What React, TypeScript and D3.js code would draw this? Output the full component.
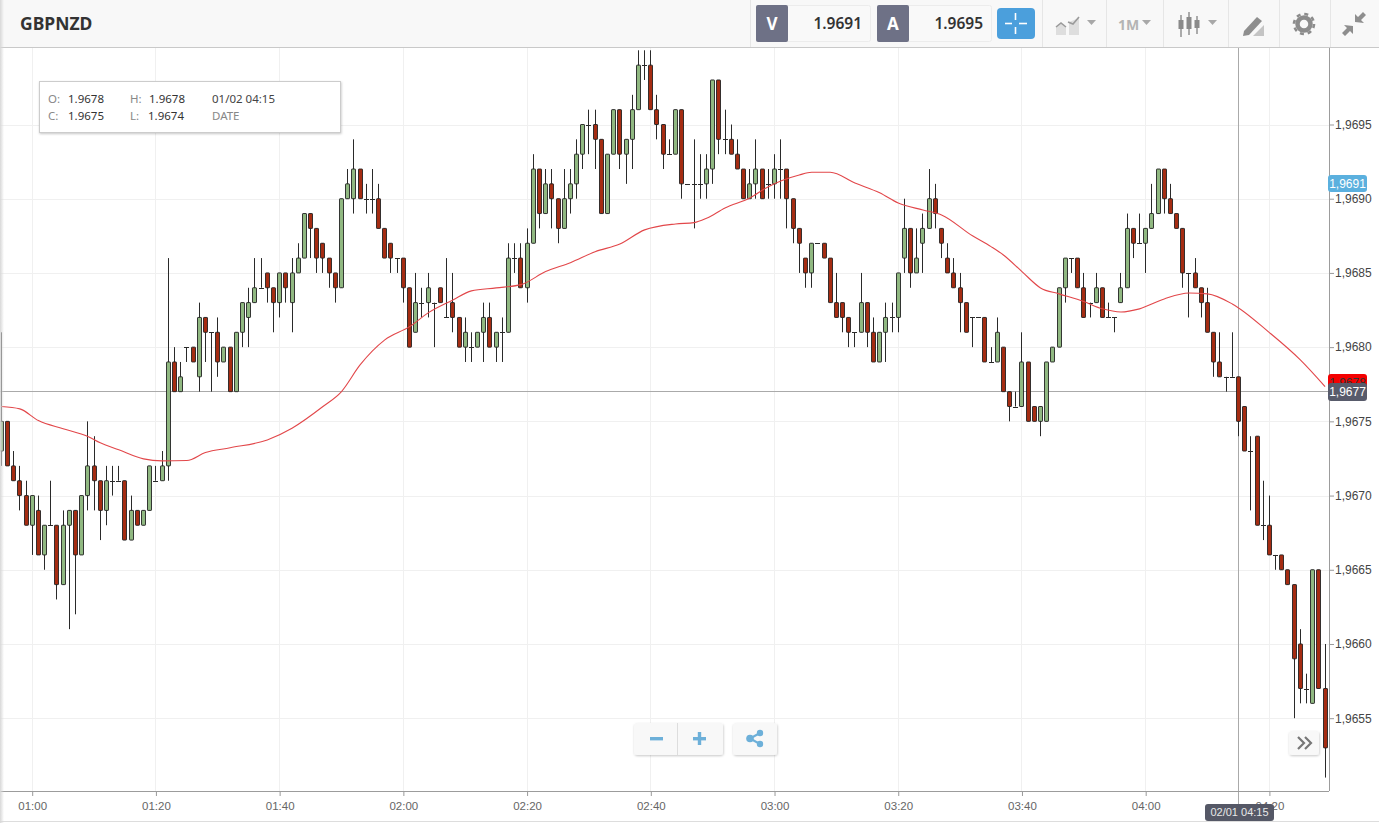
import React, { useEffect, useRef } from 'react';
import * as d3 from 'd3';

// prices are stored as pips above 1.9600
const BASE = 1.96;
const PIP = 0.0001;

const opens = [
  73,75,72,71,70,68,69,66,68,68, 64,68,69,66,70,72,71,69,71,71,
  71,67,69,68,69,71,71,72,79,77, 80,80,78,82,81,81,79,80,77,81,
  82,83,84,85,84,83,85,83,85,86, 89,88,87,86,85,84,90,90,92,90,
  90,90,88,87,86,86,84,81,83,83, 83,84,82,83,82,80,80,80,81,82,
  80,81,81,86,86,84,87,92,89,91, 90,88,90,91,93,95,95,94,89,93,
  96,93,94,96,99,99,96,95,93,93, 96,91,91,91,91,92,98,94,94,93,
  92,90,91,92,91,91,92,92,90,88, 86,85,87,87,86,83,83,82,81,81,
  83,81,79,81,82,82,86,88,85,87, 88,90,88,86,85,84,83,82,82,82,
  79,79,80,77,76,76,79,76,75,75, 79,80,84,86,86,84,83,83,84,82,
  82,83,84,88,87,87,88,89,92,90, 89,88,85,85,84,83,81,79,78,78,
  78,76,73,74,68,68,66,66,65,64, 60,57,56,65,57,
];
const highs = [
  81,75,73,72,71,70,70,68,71,68, 69,69,69,70,75,74,71,72,72,72,
  71,70,69,69,72,72,73,86,80,79, 80,80,83,82,81,82,80,80,81,83,
  84,86,86,85,84,85,85,86,87,89, 89,88,87,86,85,90,92,94,92,91,
  92,91,88,87,86,86,84,85,84,85, 83,84,86,85,82,82,81,81,83,83,
  81,82,87,87,87,88,93,92,92,92, 90,92,92,94,95,96,96,94,93,96,
  96,94,97,100,100,100,97,95,94,96, 96,91,94,93,93,98,98,96,95,94,
  92,92,94,92,92,93,94,92,90,88, 86,87,87,87,86,85,83,82,81,85,
  83,82,81,83,83,85,90,88,88,89, 92,91,88,87,86,85,83,82,82,82,
  80,82,80,77,77,81,79,76,76,79, 80,84,86,86,86,85,83,85,84,83,
  82,85,89,88,89,88,91,92,92,91, 89,88,85,86,84,84,81,81,78,81,
  78,76,74,74,71,70,66,66,65,64, 61,58,65,65,60,
];
const lows = [
  72,72,71,69,68,66,66,65,68,63, 64,61,62,66,69,69,67,68,70,71,
  67,67,68,68,69,71,71,71,77,77, 79,79,77,79,77,78,79,77,77,80,
  80,83,84,83,81,82,83,81,85,86, 86,85,85,84,83,84,90,89,90,89,
  89,88,86,85,85,83,80,81,82,82, 80,83,82,81,80,79,79,80,79,80,
  79,79,81,85,84,83,87,88,89,88, 87,88,89,90,92,93,92,89,89,93,
  92,91,92,96,98,96,94,92,93,93, 90,91,88,90,90,91,93,93,93,92,
  90,90,90,90,90,90,90,88,87,85, 84,84,87,86,83,82,81,80,80,81,
  80,79,79,79,81,81,85,84,85,85, 88,88,86,85,84,81,81,80,82,79,
  79,79,77,75,76,76,75,75,74,75, 79,80,83,85,84,82,82,83,82,82,
  81,83,84,86,87,85,88,89,89,89, 88,84,82,84,82,81,78,78,77,78,
  74,73,69,68,67,66,65,65,64,55, 56,56,56,57,51,
];
const closes = [
  75,72,71,70,68,70,66,68,68,64, 68,69,66,70,72,71,69,71,71,71,
  67,69,68,69,72,71,72,79,77,78, 80,79,82,81,81,79,80,77,81,83,
  83,84,84,84,83,85,84,85,86,89, 88,86,86,85,84,90,91,92,90,90,
  90,88,86,86,86,84,80,83,83,84, 83,83,82,82,80,81,80,81,82,80,
  81,81,86,86,84,87,92,89,91,90, 88,90,91,93,95,95,94,89,93,96,
  93,94,96,99,99,96,95,93,93,96, 91,91,91,91,92,98,94,94,93,92,
  90,91,92,90,91,92,92,90,88,87, 85,87,87,86,83,82,82,81,81,83,
  81,79,81,82,82,85,88,85,86,88, 90,89,87,85,84,83,81,82,82,79,
  79,81,77,76,76,79,75,75,76,79, 80,84,86,86,84,82,83,84,82,82,
  82,84,88,87,87,88,89,92,90,89, 88,85,85,84,83,81,79,78,78,78,
  75,73,73,68,68,66,66,65,64,59, 57,57,65,57,53,
];

// moving average, read at sparse points (minutes after 01:00, pips)
const maMinutes = [
  -5,-2,1,5,9,11,14,18,21,25,28,32,38,42,47,50,53,57,61,64,68,71,75,79,83,87,91,95,99,104,
  107,109,112,116,119,124,126,129,133,137,140,144,147,152,155,157,160,163,166,170,173,176,
  179,183,187,190,194,200,205,209,
];
const maValues = [
  76.0,75.84,75.05,74.5,73.98,73.55,73.08,72.47,72.34,72.36,72.9,73.22,73.75,74.54,76.0,77.01,
  78.8,80.49,81.38,82.31,83.18,83.79,83.99,84.21,85.09,85.69,86.43,86.95,87.9,88.3,
  88.39,88.68,89.38,90.05,90.81,91.6,91.78,91.78,91.06,90.4,89.71,89.24,88.91,87.5,86.77,86.21,
  85.09,83.99,83.59,83.07,82.58,82.37,82.58,83.25,83.65,83.59,82.91,80.98,79.14,77.34,
];

const priceTicks = [1.9655, 1.966, 1.9665, 1.967, 1.9675, 1.968, 1.9685, 1.969, 1.9695];
const timeTicks = ['01:00', '01:20', '01:40', '02:00', '02:20', '02:40', '03:00', '03:20', '03:40', '04:00', '04:20'];
const firstMinute = -5;

const infoLabels = ['O:', 'H:', 'C:', 'L:'];
const infoValues = ['1.9678', '1.9678', '1.9675', '1.9674'];

const UI_FONT = '"Noto Sans", "Open Sans", sans-serif';
const AXIS_FONT = '"Liberation Sans", Arial, sans-serif';

const timeOf = (minute: number) => new Date(Date.UTC(2015, 1, 1, 1, minute));
const minuteOf = (label: string) => {
  const [h, m] = label.split(':').map(Number);
  return (h - 1) * 60 + m;
};

const App: React.FC = () => {
  const svgRef = useRef<SVGSVGElement | null>(null);
  const width = 1379;
  const height = 823;
  const plotRight = 1329;
  const plotTop = 47;
  const plotBottom = 791;

  useEffect(() => {
    if (!svgRef.current) return;
    const svg = d3.select(svgRef.current);
    svg.selectAll('*').remove();

    const x = d3
      .scaleTime()
      .domain([timeOf(0), timeOf(200)])
      .range([32.2, 1269.4]);
    const y = d3
      .scaleLinear()
      .domain([1.9655, 1.9695])
      .range([718.2, 124.5]);
    const py = (pips: number) => y(BASE + pips * PIP);

    const defs = svg.append('defs');
    const shadow = defs.append('filter').attr('id', 'btn-shadow').attr('x', '-20%').attr('y', '-20%').attr('width', '140%').attr('height', '150%');
    shadow.append('feDropShadow').attr('dx', 0.5).attr('dy', 1).attr('stdDeviation', 1.2).attr('flood-color', '#000').attr('flood-opacity', 0.22);
    const edge = defs.append('linearGradient').attr('id', 'left-edge');
    edge.append('stop').attr('offset', '0%').attr('stop-color', '#d8d8d8');
    edge.append('stop').attr('offset', '100%').attr('stop-color', '#d8d8d8').attr('stop-opacity', 0);

    svg.append('rect').attr('width', width).attr('height', height).attr('fill', '#fff');

    // grid
    const grid = svg.append('g').attr('stroke', '#f0f0f0').attr('stroke-width', 1);
    priceTicks.forEach((p) => {
      grid.append('line').attr('x1', 0).attr('x2', plotRight).attr('y1', Math.round(y(p)) + 0.5).attr('y2', Math.round(y(p)) + 0.5);
    });
    timeTicks.forEach((t) => {
      const gx = Math.floor(x(timeOf(minuteOf(t)))) + 0.5;
      grid.append('line').attr('x1', gx).attr('x2', gx).attr('y1', plotTop).attr('y2', plotBottom);
    });

    // crosshair sits behind the candles
    const crossY = 391.5;
    const crossX = 1238.5;
    svg.append('line').attr('x1', 0).attr('x2', plotRight).attr('y1', crossY).attr('y2', crossY).attr('stroke', '#aaa');
    svg.append('line').attr('x1', crossX).attr('x2', crossX).attr('y1', plotTop).attr('y2', 806).attr('stroke', '#aaa');

    // candles
    const candles = svg.append('g');
    opens.forEach((open, i) => {
      const close = closes[i];
      const cx = Math.floor(x(timeOf(firstMinute + i))) + 0.5;
      const g = candles.append('g');
      g.append('line')
        .attr('x1', cx).attr('x2', cx)
        .attr('y1', py(highs[i])).attr('y2', py(lows[i]))
        .attr('stroke', '#2a2a2a');
      if (open === close) {
        g.append('line')
          .attr('x1', cx - 2.5).attr('x2', cx + 2.5)
          .attr('y1', Math.round(py(open)) + 0.5).attr('y2', Math.round(py(open)) + 0.5)
          .attr('stroke', '#2a2a2a');
      } else {
        const top = py(Math.max(open, close));
        const bottom = py(Math.min(open, close));
        g.append('rect')
          .attr('x', cx - 2).attr('width', 4)
          .attr('y', top).attr('height', bottom - top)
          .attr('rx', 0.5)
          .attr('fill', close > open ? '#90b881' : '#a52c12')
          .attr('stroke', '#222')
          .attr('stroke-width', 0.9);
      }
    });

    // moving average
    const ma = d3
      .line<number>()
      .x((_, i) => x(timeOf(maMinutes[i])))
      .y((d) => py(d))
      .curve(d3.curveMonotoneX);
    svg.append('path').datum(maValues).attr('d', ma).attr('fill', 'none').attr('stroke', '#e2474a').attr('stroke-width', 1.1);

    // axes
    const yAxis = svg
      .append('g')
      .attr('transform', `translate(${plotRight},0)`)
      .call(
        d3.axisRight(y)
          .tickValues(priceTicks)
          .tickSize(5)
          .tickPadding(1)
          .tickFormat((d) => (d as number).toFixed(4).replace('.', ','))
      );
    const xAxis = svg
      .append('g')
      .attr('transform', `translate(0,${plotBottom})`)
      .call(
        d3.axisBottom(x)
          .tickValues(timeTicks.map((t) => timeOf(minuteOf(t))))
          .tickSize(5)
          .tickPadding(6)
          .tickFormat(d3.utcFormat('%H:%M') as any)
      );
    [yAxis, xAxis].forEach((a) => {
      a.select('.domain').remove();
      a.selectAll('line').attr('stroke', '#999');
      a.selectAll('text').attr('font-family', AXIS_FONT).attr('font-size', 12).attr('fill', '#555');
    });
    yAxis.selectAll('text').attr('fill', '#444');
    xAxis.selectAll('text').attr('font-size', 11.5).attr('fill', '#666');

    svg.append('line').attr('x1', plotRight + 0.5).attr('x2', plotRight + 0.5).attr('y1', plotTop).attr('y2', plotBottom).attr('stroke', '#9c9c9c');
    svg.append('line').attr('x1', 0).attr('x2', plotRight).attr('y1', plotBottom + 0.5).attr('y2', plotBottom + 0.5).attr('stroke', '#9c9c9c');
    svg.append('line').attr('x1', 0).attr('x2', width).attr('y1', 821.5).attr('y2', 821.5).attr('stroke', '#ddd');

    // price and date flags
    const flag = (fx: number, fy: number, w: number, h: number, fill: string, label: string, color: string, size = 12) => {
      svg.append('rect').attr('x', fx).attr('y', fy).attr('width', w).attr('height', h).attr('rx', 3).attr('fill', fill);
      svg.append('text').attr('x', fx + w / 2).attr('y', fy + h / 2 + size * 0.36)
        .attr('text-anchor', 'middle').attr('font-family', AXIS_FONT).attr('font-size', size).attr('fill', color).text(label);
    };
    flag(1328, 175, 39, 17, '#5bb0de', '1,9691', '#fff');
    flag(1328, 374, 39, 18, '#f40000', '1,9678', '#333');
    flag(1328, 383, 39, 18, '#585b6b', '1,9677', '#fff');
    flag(1205, 804, 69, 17, '#555866', '02/01 04:15', '#e8e8e8', 11);

    // info box
    const info = svg.append('g').attr('font-family', UI_FONT).attr('font-size', 11.5);
    info.append('rect').attr('x', 39.5).attr('y', 81.5).attr('width', 301).attr('height', 51)
      .attr('fill', '#fff').attr('stroke', '#ccc').attr('filter', 'url(#btn-shadow)');
    const labelX = [48, 130, 48, 130];
    const valueX = [68, 149, 68, 148];
    const rowY = [103, 103, 120, 120];
    infoLabels.forEach((l, i) => {
      info.append('text').attr('x', labelX[i]).attr('y', rowY[i]).attr('fill', '#888').text(l);
      info.append('text').attr('x', valueX[i]).attr('y', rowY[i]).attr('fill', '#333').text(infoValues[i]);
    });
    info.append('text').attr('x', 212).attr('y', 103).attr('fill', '#444').text('01/02 04:15');
    info.append('text').attr('x', 212).attr('y', 120).attr('fill', '#888').text('DATE');

    // header bar
    const bar = svg.append('g');
    bar.append('rect').attr('width', width).attr('height', plotTop).attr('fill', '#f8f8f8');
    bar.append('line').attr('x1', 0).attr('x2', width).attr('y1', 47.5).attr('y2', 47.5).attr('stroke', '#c9c9c9');
    bar.append('text').attr('x', 20).attr('y', 30).attr('font-family', UI_FONT).attr('font-weight', 700).attr('font-size', 17.5).attr('fill', '#333').text('GBPNZD');
    [750.5, 1042.5, 1106.5, 1163.5, 1228.5, 1279.5, 1330.5].forEach((sx) => {
      bar.append('line').attr('x1', sx).attr('x2', sx).attr('y1', 0).attr('y2', 47).attr('stroke', '#e6e6e6');
    });

    const quote = (qx: number, w: number, letter: string, value: string) => {
      bar.append('rect').attr('x', qx + 0.5).attr('y', 5.5).attr('width', w).attr('height', 36).attr('rx', 2).attr('fill', '#f9f9f9').attr('stroke', '#ececec');
      bar.append('rect').attr('x', qx).attr('y', 5).attr('width', 32).attr('height', 37).attr('rx', 2).attr('fill', '#6e7186');
      bar.append('text').attr('x', qx + 16).attr('y', 30).attr('text-anchor', 'middle').attr('font-family', UI_FONT).attr('font-weight', 700).attr('font-size', 17).attr('fill', '#fff').text(letter);
      bar.append('text').attr('x', qx + w - 8).attr('y', 29).attr('text-anchor', 'end').attr('font-family', UI_FONT).attr('font-weight', 600).attr('font-size', 15.5).attr('fill', '#333').text(value);
    };
    quote(756, 114, 'V', '1.9691');
    quote(877, 114, 'A', '1.9695');

    // crosshair toggle
    bar.append('rect').attr('x', 997).attr('y', 8).attr('width', 38).attr('height', 31).attr('rx', 4).attr('fill', '#4b9fdc');
    [[1005, 23.5, 1012, 23.5], [1019, 23.5, 1027, 23.5], [1015.5, 13, 1015.5, 20], [1015.5, 27, 1015.5, 34]].forEach(([a, b, c, d]) => {
      bar.append('line').attr('x1', a).attr('y1', b).attr('x2', c).attr('y2', d).attr('stroke', '#fff').attr('stroke-width', 1.6);
    });

    const caret = (cx: number) => {
      bar.append('path').attr('d', `M${cx},20 h9 l-4.5,5 z`).attr('fill', '#a8a8a8');
    };
    // area type icon
    bar.append('path').attr('d', 'M1056,35 V27 L1061,23 L1066,27 V35 Z M1069,35 V22 L1079,18 V35 Z').attr('fill', '#dedede');
    bar.append('path').attr('d', 'M1056,27 L1061,23 L1066,27 M1068,22 L1073,24 L1079,17').attr('fill', 'none').attr('stroke', '#9a9a9a').attr('stroke-width', 1.6);
    caret(1087);
    bar.append('text').attr('x', 1118).attr('y', 30).attr('font-family', UI_FONT).attr('font-weight', 700).attr('font-size', 14).attr('fill', '#b4b4b4').text('1M');
    caret(1142);
    // candles icon
    [[1181, 20, 29, 15, 37], [1189, 17, 29, 12, 35], [1197, 20, 28, 16, 34]].forEach(([cx, t, b, w1, w2]) => {
      bar.append('line').attr('x1', cx).attr('x2', cx).attr('y1', w1).attr('y2', w2).attr('stroke', '#8a8a8a').attr('stroke-width', 1.4);
      bar.append('rect').attr('x', cx - 2.5).attr('y', t).attr('width', 5).attr('height', b - t).attr('fill', '#8a8a8a');
    });
    caret(1208);
    // drawing icon
    bar.append('path').attr('d', 'M1244,31 L1257,17 L1262,21 L1249,35 L1243,36 Z').attr('fill', '#8e8e8e');
    bar.append('path').attr('d', 'M1253,36 L1264,25 V36 Z').attr('fill', '#c4c4c4');
    // settings gear
    bar.append('circle').attr('cx', 1304).attr('cy', 24).attr('r', 6.5).attr('fill', 'none').attr('stroke', '#8c8c8c').attr('stroke-width', 4.5);
    bar.append('circle').attr('cx', 1304).attr('cy', 24).attr('r', 10).attr('fill', 'none').attr('stroke', '#8c8c8c').attr('stroke-width', 2.6).attr('stroke-dasharray', '4 3.85');
    // compress icon
    bar.append('path').attr('d', 'M1355,22 V14 L1358,17 L1363,12 L1366,15 L1361,20 L1364,23 Z M1353,26 V34 L1350,31 L1345,36 L1342,33 L1347,28 L1344,25 Z').attr('fill', '#8e8e8e');

    svg.append('rect').attr('width', 4).attr('height', height).attr('fill', 'url(#left-edge)');

    // zoom, share and scroll buttons
    const button = (bx: number, by: number, w: number, h: number) => {
      svg.append('rect').attr('x', bx).attr('y', by).attr('width', w).attr('height', h).attr('rx', 3).attr('fill', '#f8f8f8').attr('filter', 'url(#btn-shadow)');
    };
    button(634, 723, 89, 32);
    svg.append('line').attr('x1', 677.5).attr('x2', 677.5).attr('y1', 723).attr('y2', 755).attr('stroke', '#ddd');
    button(733, 723, 44, 32);
    button(1289, 731, 30, 24);
    const blue = '#6db0d9';
    svg.append('rect').attr('x', 650).attr('y', 737).attr('width', 13).attr('height', 3.4).attr('fill', blue);
    svg.append('rect').attr('x', 693).attr('y', 737).attr('width', 13).attr('height', 3.4).attr('fill', blue);
    svg.append('rect').attr('x', 697.8).attr('y', 732).attr('width', 3.4).attr('height', 13).attr('fill', blue);
    svg.append('path').attr('d', 'M750,738.5 L760,733 M750,738.5 L760,744').attr('stroke', blue).attr('stroke-width', 2);
    [[750, 738.5, 3.8], [760, 733, 3.2], [760, 744, 3.2]].forEach(([a, b, r]) => {
      svg.append('circle').attr('cx', a).attr('cy', b).attr('r', r).attr('fill', blue);
    });
    svg.append('path').attr('d', 'M1298,737 L1304,743 L1298,749 M1305,737 L1311,743 L1305,749').attr('fill', 'none').attr('stroke', '#777').attr('stroke-width', 2.2);
  }, []);

  return (
    <svg
      ref={svgRef}
      width={width}
      height={height}
      style={{ position: 'absolute', left: 0, top: 0, display: 'block' }}
    ></svg>
  );
};

export default App;
